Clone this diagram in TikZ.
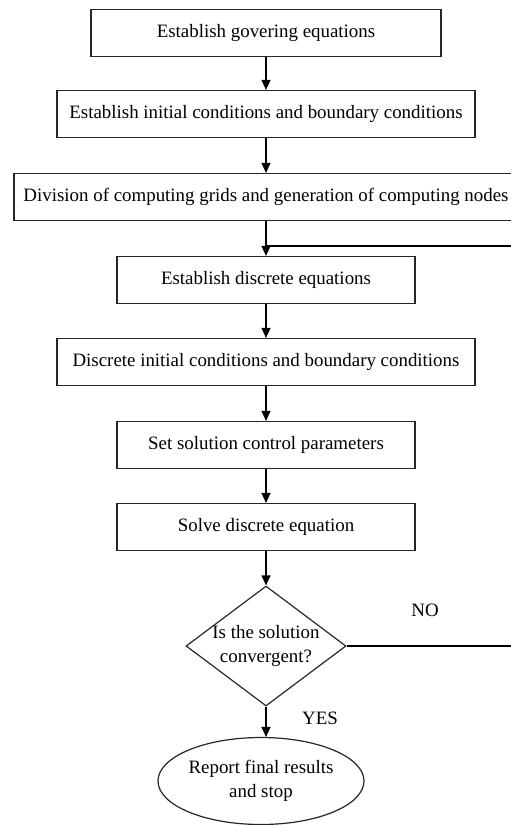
\documentclass[tikz,border=0pt]{standalone}
\usepackage{fontspec}
\setmainfont{Liberation Serif}
\usepackage{tikz}
\usetikzlibrary{shapes.geometric,arrows.meta}

\begin{document}
\begin{tikzpicture}[x=1pt,y=-1pt,
		line width=1.2pt,
		>={Triangle[width=9pt,length=10pt]},
		every node/.style={font=\fontsize{18.9}{23.5}\selectfont},
		stepbox/.style={draw=black!85, rectangle, inner sep=0pt, minimum height=47pt},
		decision/.style={draw=black!85, diamond, aspect=1.33, inner sep=-10pt, align=center, minimum width=160pt, minimum height=120pt},
		terminal/.style={draw=black!85, ellipse, inner sep=0pt, align=center, minimum width=206pt, minimum height=87pt}]
		\useasboundingbox (0,0) rectangle (511,825);

		% Process steps.
		\node[stepbox, minimum width=350pt] (govern)  at (266,33)  {Establish govering equations};
		\node[stepbox, minimum width=418pt] (initbc)  at (266,114) {Establish initial conditions and boundary conditions};
		\node[stepbox, minimum width=504pt] (grid)    at (266,197) {Division of computing grids and generation of computing nodes};
		\node[stepbox, minimum width=298pt] (discret) at (266,280) {Establish discrete equations};
		\node[stepbox, minimum width=418pt] (discbc)  at (266,362) {Discrete initial conditions and boundary conditions};
		\node[stepbox, minimum width=298pt] (param)   at (266,445) {Set solution control parameters};
		\node[stepbox, minimum width=298pt] (solve)   at (266,527) {Solve discrete equation};

		% Convergence check and end.
		\node[decision] (conv) at (266,646) {Is the solution\\convergent?};
		\node[terminal] (report) at (261,781) {Report final results\\and stop};

		% Labels.
		\node (no)  at (425,610) {NO};
		\node (yes) at (320,718) {YES};

		% Arrows.
		\draw[->] (govern) -- (initbc);
		\draw[->] (initbc) -- (grid);
		\draw[->] (grid) -- (discret);
		\draw[->] (discbc.north |- discret.south) -- (discbc);
		\draw[->] (discbc) -- (param);
		\draw[->] (param) -- (solve);
		\draw[->] (solve) -- (conv);
		\draw[->] (conv.south) -- (conv.south |- report.north);

		% Loop back.
		\coordinate (loopR)  at (522,646);
		\coordinate (loopIn) at (266,246);
		\draw (conv.east) -- (loopR) |- (loopIn);
	\end{tikzpicture}
\end{document}
